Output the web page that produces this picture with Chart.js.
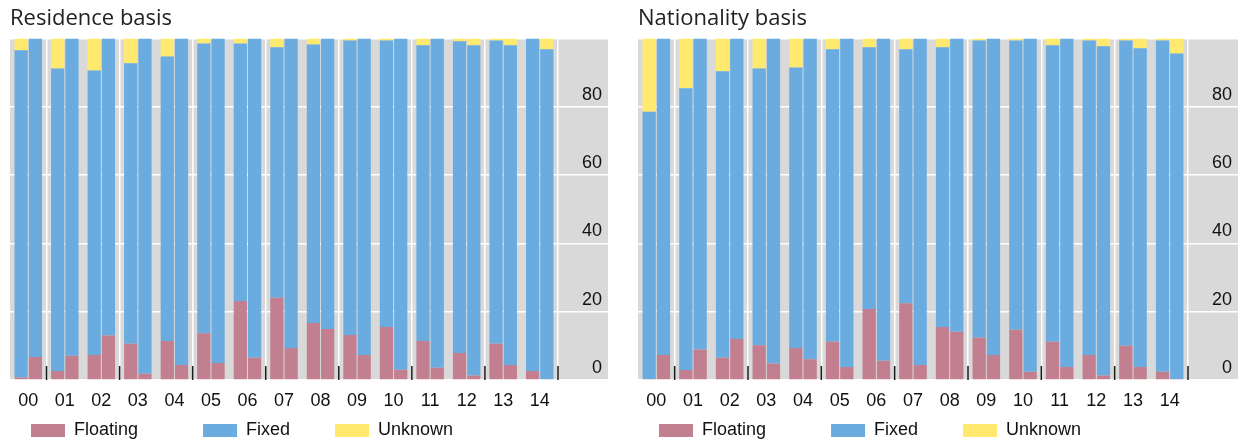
<!DOCTYPE html>
<html>
<head>
<meta charset="utf-8">
<script src="https://cdn.jsdelivr.net/npm/chart.js@4.4.0/dist/chart.umd.min.js"></script>
<style>
  body { margin: 0; background: #fff; }
  .row { display: flex; width: 1241px; height: 446px; }
  canvas { display: block; }
</style>
</head>
<body>
<div class="row">
  <canvas id="resChart" width="620" height="446"></canvas>
  <canvas id="natChart" width="621" height="446"></canvas>
</div>
<script>
// years (x axis)
var years = ['00', '01', '02', '03', '04', '05', '06', '07', '08', '09', '10', '11', '12', '13', '14'];
var yTicks = [0, 20, 40, 60, 80, 100];

// residence basis - first bar of each year
var resFloatingA = [0.7, 2.6, 7.3, 10.6, 11.4, 13.7, 23.1, 24.1, 16.7, 13.2, 15.5, 11.4, 7.9, 10.6, 2.6];
var resFixedA    = [95.8, 88.6, 83.3, 82.1, 83.3, 84.8, 75.4, 73.3, 81.5, 86.2, 83.9, 86.6, 91.3, 88.8, 97.4];
var resUnknownA  = [3.5, 8.8, 9.4, 7.3, 5.3, 1.5, 1.5, 2.6, 1.8, 0.6, 0.6, 2.0, 0.8, 0.6, 0];
// residence basis - second bar of each year
var resFloatingB = [6.7, 7.1, 13.0, 1.8, 4.4, 5.0, 6.5, 9.4, 14.9, 7.3, 3.0, 3.6, 1.3, 4.4, 0];
var resFixedB    = [93.3, 92.9, 87.0, 98.2, 95.6, 95.0, 93.5, 90.6, 85.1, 92.7, 97.0, 96.4, 96.7, 93.6, 96.8];
var resUnknownB  = [0, 0, 0, 0, 0, 0, 0, 0, 0, 0, 0, 0, 2.0, 2.0, 3.2];

// nationality basis - first bar of each year
var natFloatingA = [0.3, 2.9, 6.5, 10.2, 9.4, 11.2, 20.8, 22.5, 15.5, 12.4, 14.7, 11.2, 7.3, 10.0, 2.4];
var natFixedA    = [78.2, 82.5, 83.9, 81.0, 82.1, 85.6, 76.6, 74.3, 81.9, 87.0, 84.7, 86.8, 92.1, 89.4, 97.0];
var natUnknownA  = [21.5, 14.6, 9.6, 8.8, 8.5, 3.2, 2.6, 3.2, 2.6, 0.6, 0.6, 2.0, 0.6, 0.6, 0.6];
// nationality basis - second bar of each year
var natFloatingB = [7.3, 8.9, 12.0, 4.8, 6.1, 3.8, 5.6, 4.4, 14.1, 7.3, 2.4, 3.8, 1.3, 3.8, 0.3];
var natFixedB    = [92.7, 91.1, 88.0, 95.2, 93.9, 96.2, 94.4, 95.6, 85.9, 92.7, 97.6, 96.2, 96.4, 93.3, 95.3];
var natUnknownB  = [0, 0, 0, 0, 0, 0, 0, 0, 0, 0, 0, 0, 2.3, 2.9, 4.4];

var seriesNames = ['Floating', 'Fixed', 'Unknown'];
var seriesColors = ['#c27f90', '#6aace0', '#ffe96e'];

Chart.defaults.font.family = '"Liberation Sans", Arial, sans-serif';
Chart.defaults.color = '#111';

// grey panel behind the bars and the axis labels (runs 6px past the labels)
var panelBack = {
  id: 'panelBack',
  beforeDraw: function (chart) {
    var ca = chart.chartArea, ys = chart.scales.y, ctx = chart.ctx;
    ctx.save();
    ctx.fillStyle = '#d9d9d9';
    ctx.fillRect(ca.left, ca.top, ys.right + 6 - ca.left, ca.bottom - ca.top);
    ctx.restore();
  }
};

// short black marks every two years, pointing up from the baseline
var innerTicks = {
  id: 'innerTicks',
  afterDatasetsDraw: function (chart) {
    var ca = chart.chartArea, xs = chart.scales.x, ctx = chart.ctx;
    ctx.save();
    ctx.strokeStyle = '#1a1a1a';
    ctx.lineWidth = 1.5;
    ctx.beginPath();
    for (var i = 1; i <= years.length; i += 2) {
      var x = xs.getPixelForValue(i - 0.5);
      ctx.moveTo(x, ca.bottom - 14);
      ctx.lineTo(x, ca.bottom);
    }
    ctx.stroke();
    ctx.restore();
  }
};

// put the legend row where the original has it
var legendSpot = {
  id: 'legendSpot',
  afterLayout: function (chart) {
    var lg = chart.legend;
    var p = lg.options.labels.padding;
    var dx = chart.chartArea.left + 21 - p - lg.left;
    lg.left += dx; lg.right += dx;
    lg.top = 430.5 - p - 9;
    lg.bottom = chart.height;
    lg.height = lg.bottom - lg.top;
  }
};

var legendGap = ['       ', '   ', ''];

function makeChart(id, title, floatingA, fixedA, unknownA, floatingB, fixedB, unknownB, padLeft, padRight) {
  var sets = [floatingA, fixedA, unknownA, floatingB, fixedB, unknownB].map(function (vals, i) {
    var k = i % 3;
    return {
      label: seriesNames[k],
      data: vals,
      stack: i < 3 ? 'a' : 'b',
      backgroundColor: seriesColors[k],
      borderWidth: 0,
      barPercentage: 0.93,
      categoryPercentage: 0.78
    };
  });

  return new Chart(document.getElementById(id).getContext('2d'), {
    type: 'bar',
    data: { labels: years, datasets: sets },
    plugins: [panelBack, innerTicks, legendSpot],
    options: {
      responsive: false,
      animation: false,
      layout: { padding: { left: padLeft, right: padRight, top: 0, bottom: 0 } },
      plugins: {
        tooltip: { enabled: false },
        title: {
          display: true,
          text: title,
          align: 'start',
          color: '#222',
          font: { family: '"Open Sans", sans-serif', size: 22, weight: 'normal', lineHeight: 1.2 },
          padding: { top: 6, bottom: 6 }
        },
        legend: {
          position: 'bottom',
          align: 'start',
          maxHeight: 30,
          labels: {
            boxWidth: 34,
            boxHeight: 13,
            padding: 30,
            color: '#111',
            font: { size: 18 },
            generateLabels: function (chart) {
              var items = Chart.defaults.plugins.legend.labels.generateLabels(chart).slice(0, 3);
              return items.map(function (it, i) {
                it.text = it.text + legendGap[i];
                return it;
              });
            }
          }
        }
      },
      scales: {
        x: {
          stacked: true,
          offset: true,
          border: { display: false },
          grid: {
            offset: true,
            drawTicks: false,
            lineWidth: 1.5,
            color: function (c) {
              return (c.index === undefined || c.index % 2 === 1) ? '#ffffff' : 'rgba(0,0,0,0)';
            }
          },
          ticks: { padding: 10, font: { size: 18 }, color: '#111', maxRotation: 0, autoSkip: false },
          afterFit: function (s) { s.height = 36; }
        },
        y: {
          position: 'right',
          stacked: true,
          min: 0,
          max: 100,
          border: { display: false },
          grid: { color: '#ffffff', lineWidth: 1.5, drawTicks: true, tickLength: 50 },
          afterBuildTicks: function (s) { s.ticks = yTicks.map(function (v) { return { value: v }; }); },
          ticks: {
            crossAlign: 'far',
            labelOffset: -12,
            font: { size: 18 },
            color: '#111',
            callback: function (v) { return v === 100 ? '' : v; }
          },
          afterFit: function (s) { s.width = 44; }
        }
      }
    }
  });
}

window.onload = function () {
  makeChart('resChart', 'Residence basis', resFloatingA, resFixedA, resUnknownA, resFloatingB, resFixedB, resUnknownB, 10, 18);
  makeChart('natChart', 'Nationality basis', natFloatingA, natFixedA, natUnknownA, natFloatingB, natFixedB, natUnknownB, 18, 9);
};
</script>
</body>
</html>
